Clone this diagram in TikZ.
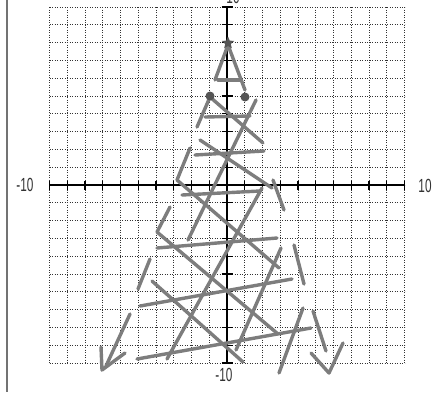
\documentclass[tikz,border=0pt]{standalone}
\usepackage{fontspec}
\setmainfont{Liberation Sans}
\usetikzlibrary{shapes.geometric}
\definecolor{pen}{RGB}{125,125,125}
\definecolor{pendark}{RGB}{85,85,85}
\begin{document}
\begin{tikzpicture}[x=1pt,y=-1pt,
  stroke/.style={draw=pen, line width=3.4pt, line cap=round, line join=round},
  gridline/.style={black!80, line width=0.8pt, dash pattern=on 0.9pt off 1.6pt},
  axis/.style={black, line width=1.6pt},
  tickmark/.style={black, line width=1.1pt},
  lab/.style={font=\fontsize{19}{19}\selectfont, inner sep=0pt, text=black!80}]
\useasboundingbox (0,0) rectangle (443,392);
\clip (0,0) rectangle (443,392);
\fill[white] (0,0) rectangle (443,392);
\draw[black!55, line width=1.2pt] (7,0) -- (7,392);
% grid
\foreach \i in {-10,...,10} {
  \draw[gridline] ({227+17.75*\i},7) -- ({227+17.75*\i},363);
  \draw[gridline] (49.5,{185+17.8*\i}) -- (404.5,{185+17.8*\i});
}
% axes
\draw[axis] (49.5,185) -- (404.5,185);
\draw[axis] (227,7) -- (227,363);
\foreach \i in {-10,...,10} {
  \draw[tickmark] ({227+17.75*\i},180.5) -- ({227+17.75*\i},189.5);
  \draw[tickmark] (221.5,{185+17.8*\i}) -- (232.5,{185+17.8*\i});
}
% labels
\node[lab] (ytop) at (233,-3) {\scalebox{0.62}[1]{10}};
\node[lab] (xneg) at (25,185) {\scalebox{0.62}[1]{-10}};
\node[lab] (xpos) at (425,186) {\scalebox{0.62}[1]{10}};
\node[lab] (yneg) at (224,375) {\scalebox{0.62}[1]{-10}};
% tree top
\draw[stroke] (228,45) -- (215,80);
\draw[stroke] (228,45) -- (245,90);
\draw[stroke] (218,80) -- (240,80);
% tiers
\draw[stroke] (205,117) -- (250,116);
\draw[stroke] (210,97) -- (197,127);
\draw[stroke] (210,97) -- (263,143);
\draw[stroke] (256,100) -- (188,240);
\draw[stroke] (200,140) -- (272,188);
\draw[stroke] (195,155) -- (264,151);
\draw[stroke] (190,148) -- (177,180) -- (279,268);
\draw[stroke] (182,195) -- (260,191);
\draw[stroke] (273,180) -- (284,210);
\draw[stroke] (170,207) -- (157,232) -- (278,334);
\draw[stroke] (157,248) -- (277,238);
\draw[stroke] (262,188) -- (167,359);
\draw[stroke] (150,259) -- (138,289);
\draw[stroke] (152,281) -- (243,362);
\draw[stroke] (140,306) -- (292,279);
\draw[stroke] (281,248) -- (236,350);
\draw[stroke] (294,245) -- (304,284);
\draw[stroke] (137,359) -- (311,328);
\draw[stroke] (303,308) -- (279,373);
\draw[stroke] (313,311) -- (326,351);
\draw[stroke] (311,353) -- (329,373) -- (343,343);
\draw[stroke] (130,314) -- (106,366);
\draw[stroke] (101,347) -- (102,370) -- (125,353);
% ornaments and star
\fill[pendark] (210,96) circle (4.5);
\fill[pendark] (245,97) circle (4.5);
\node[star, star points=5, star point ratio=2.2, fill=pendark, minimum size=13pt, inner sep=0pt] (topstar) at (228,43) {};
\end{tikzpicture}
\end{document}
